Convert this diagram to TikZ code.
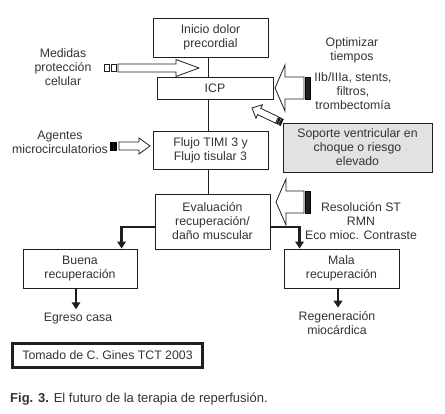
\documentclass[tikz,border=0pt]{standalone}
\usepackage{fontspec}
\setmainfont{Liberation Sans}
\usetikzlibrary{arrows.meta,positioning,calc}
\definecolor{textdark}{HTML}{333333}
\definecolor{linedark}{HTML}{1E1E1E}
\definecolor{supportgray}{HTML}{E2E2E2}
\newcommand{\diagfont}{\fontsize{12.3}{14}\selectfont}
\tikzset{
  flowbox/.style={
    rectangle, draw=linedark, line width=0.9pt, align=center,
    font=\diagfont, text=textdark, inner sep=0pt
  },
  graybox/.style={flowbox, fill=supportgray},
  note/.style={font=\diagfont, text=textdark, align=center, inner sep=0pt},
  spineline/.style={draw=linedark, line width=0.8pt},
  branch/.style={draw=linedark, line width=2.6pt, -{Triangle[length=7pt,width=8.5pt]}},
  hollow/.style={draw=linedark, line width=0.8pt, fill=white, line join=miter},
  tailbox/.style={draw=linedark, line width=0.8pt, fill=white},
  tailbar/.style={fill=linedark}
}
% hollow block arrow: tail, tip, half shaft, half head, head length
\newcommand{\hollowarrow}[5]{
  \coordinate (ha-base) at ($(#2)!#5!(#1)$);
  \draw[hollow] ($(#1)!#3!90:(#2)$) -- ($(ha-base)!#3!90:(#2)$)
    -- ($(ha-base)!#4!90:(#2)$) -- (#2) -- ($(ha-base)!#4!-90:(#2)$)
    -- ($(ha-base)!#3!-90:(#2)$) -- ($(#1)!#3!-90:(#2)$) -- cycle;
}
% stripe behind the tail of a block arrow
\newcommand{\tailstripe}[6]{
  \coordinate (ts-a) at ($(#1)!#3!(#2)$);
  \coordinate (ts-b) at ($(#1)!#4!(#2)$);
  \draw[#6] ($(ts-a)!#5!90:(#2)$) -- ($(ts-b)!#5!90:(#2)$)
    -- ($(ts-b)!#5!-90:(#2)$) -- ($(ts-a)!#5!-90:(#2)$) -- cycle;
}

\begin{document}
\begin{tikzpicture}[x=1pt,y=-1pt]
\useasboundingbox (0,0) rectangle (445,414);
% main column
\node[flowbox, minimum width=115pt, minimum height=39pt] (inicio) at (210.5,37.5) {Inicio dolor\\precordial};
\node[flowbox, minimum width=116pt, minimum height=22pt] (icp) at (215,88) {ICP};
\node[flowbox, minimum width=115pt, minimum height=38pt] (flujo) at (210.5,150) {Flujo TIMI 3 y\\Flujo tisular 3};
\node[flowbox, minimum width=115pt, minimum height=55pt] (eval) at (212.5,221.5) {Evaluación\\recuperación/\\daño muscular};
\node[flowbox, minimum width=114pt, minimum height=39pt] (buena) at (80,268.5) {Buena\\recuperación};
\node[flowbox, minimum width=115pt, minimum height=39pt] (mala) at (341.5,268.5) {Mala\\recuperación};
\node[graybox, minimum width=149pt, minimum height=49pt] (soporte) at (357.5,147.5) {Soporte ventricular en\\choque o riesgo\\elevado};
\node[flowbox, line width=2.2pt, minimum width=190pt, minimum height=24pt] (tomado) at (107.5,355.5) {Tomado de C. Gines TCT 2003};

% side labels
\node[note] (medidas) at (63,67.5) {Medidas\\protección\\celular};
\node[note] (optimizar) at (352,50) {Optimizar\\tiempos};
\node[note] (iib) at (353,91.5) {IIb/IIIa, stents,\\filtros,\\trombectomía};
\node[note] (agentes) at (60,142) {Agentes\\microcirculatorios};
\node[note] (resol) at (361,221) {Resolución ST\\RMN\\Eco mioc. Contraste};
\node[note] (egreso) at (78,319) {Egreso casa};
\node[note] (regen) at (337,323.5) {Regeneración\\miocárdica};
\node[anchor=west, font=\fontsize{13}{16}\selectfont, text=textdark, inner sep=0pt] (caption) at (10,399)
  {\textbf{Fig. 3.} El futuro de la terapia de reperfusión.};

% spine
\coordinate (spine) at (208,0);
\draw[spineline] (inicio.south -| spine) -- (icp.north -| spine);
\draw[spineline] (icp.south -| spine) -- (flujo.north -| spine);
\draw[spineline] (flujo.south -| spine) -- (eval.north -| spine);

% outcome branches
\draw[branch] ($(eval.west)+(0,5.5)$) -| ($(buena.north west)+(99,0)$);
\draw[branch] ($(eval.east)+(0,5.5)$) -| ($(mala.north west)+(16,0)$);
\draw[branch] ($(buena.south)+(-4,0)$) -- ($(egreso.north)+(-2,-4)$);
\draw[branch] ($(mala.south)+(-3.5,0)$) -- ($(regen.north)+(1,-4)$);

% block arrows
\coordinate (medtail) at (118,68);
\coordinate (medtip) at (199,68);
\hollowarrow{medtail}{medtip}{4pt}{8.5pt}{23pt}
\tailstripe{medtail}{medtip}{-14pt}{-9pt}{3.5pt}{tailbox}
\tailstripe{medtail}{medtip}{-7pt}{-1.5pt}{3.5pt}{tailbox}

\coordinate (agtail) at (119,146);
\coordinate (agtip) at (150,146);
\hollowarrow{agtail}{agtip}{4pt}{8pt}{11pt}
\foreach \a/\b in {-9pt/-7.8pt,-6.4pt/-5.2pt,-3.8pt/-2.6pt}
  \tailstripe{agtail}{agtip}{\a}{\b}{4pt}{tailbar};

\coordinate (opttail) at (304,88);
\coordinate (opttip) at (275,88);
\hollowarrow{opttail}{opttip}{11pt}{23pt}{10pt}
\tailstripe{opttail}{opttip}{-1.5pt}{-6.5pt}{11pt}{tailbar}

\coordinate (restail) at (304,202);
\coordinate (restip) at (276,202);
\hollowarrow{restail}{restip}{11pt}{23pt}{10pt}
\tailstripe{restail}{restip}{-1.5pt}{-6.5pt}{11pt}{tailbar}

\coordinate (soptail) at (277,120);
\coordinate (soptip) at (252,108);
\hollowarrow{soptail}{soptip}{3.5pt}{7.5pt}{8pt}
\foreach \a/\b in {-1pt/-2.5pt,-3.5pt/-5.5pt}
  \tailstripe{soptail}{soptip}{\a}{\b}{3.5pt}{tailbar};
\end{tikzpicture}
\end{document}
